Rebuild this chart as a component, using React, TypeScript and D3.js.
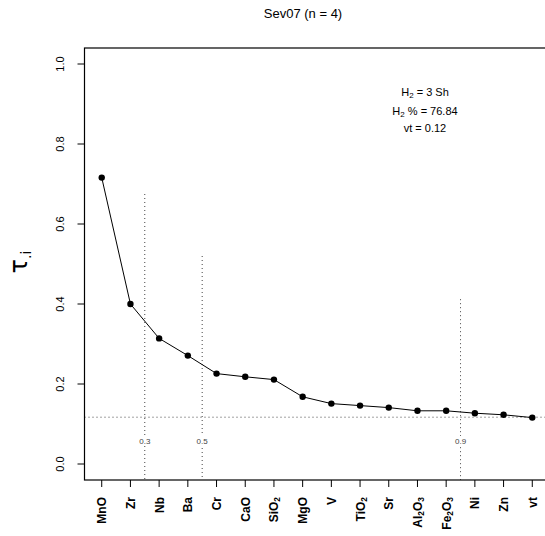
import React from "react";
import * as d3 from "d3";

const categories = ["MnO", "Zr", "Nb", "Ba", "Cr", "CaO", "SiO2", "MgO", "V", "TiO2", "Sr", "Al2O3", "Fe2O3", "Ni", "Zn", "vt"];
const tauValues = [0.716, 0.400, 0.314, 0.271, 0.226, 0.218, 0.211, 0.168, 0.151, 0.146, 0.141, 0.133, 0.133, 0.127, 0.123, 0.116];
const yTicks = [0, 0.2, 0.4, 0.6, 0.8, 1.0];
const cutPositions = [2.5, 4.5, 13.5];
const cutTops = [0.675, 0.52, 0.412];
const cutLabels = ["0.3", "0.5", "0.9"];
const vtLevel = 0.117;
const annotations = ["H2 = 3 Sh", "H2 % = 76.84", "vt = 0.12"];

const W = 545, H = 536;
const left = 84.5, right = 549.5, top = 48, bottom = 480;

function Chem({ name }: { name: string }) {
  const parts = name.split(/(\d)/).filter((p) => p !== "");
  return (
    <>
      {parts.map((p, i) =>
        /\d/.test(p) ? (
          <tspan key={i} fontSize="0.7em" baselineShift="-25%">{p}</tspan>
        ) : (
          <tspan key={i}>{p}</tspan>
        )
      )}
    </>
  );
}

export default function App() {
  const x = d3.scaleLinear().domain([0.4, 16.6]).range([left, right]);
  const y = d3.scaleLinear().domain([-0.04, 1.04]).range([bottom, top]);
  const idx = categories.map((_, i) => i + 1);
  const line = d3.line<number>().x((_, i) => x(idx[i])).y((d) => y(d));
  const font = "Liberation Sans, Arial, Helvetica, sans-serif";

  return (
    <svg width={W} height={H} style={{ position: "absolute", left: 0, top: 0 }} fontFamily={font}>
      <rect x={0} y={0} width={W} height={H} fill="#fff" />
      <text x={303} y={18} textAnchor="middle" fontSize={13}>Sev07 (n = 4)</text>

      {/* reference lines */}
      <line x1={left} x2={right} y1={y(vtLevel)} y2={y(vtLevel)} stroke="#444" strokeWidth={1} strokeDasharray="1,3" />
      {cutPositions.map((p, i) => (
        <g key={i}>
          <line x1={x(p)} x2={x(p)} y1={y(cutTops[i])} y2={bottom} stroke="#444" strokeWidth={1} strokeDasharray="1,3" />
          <rect x={x(p) - 7} y={436} width={14} height={10} fill="#fff" />
          <text x={x(p)} y={444} textAnchor="middle" fontSize={8} fill="#444">{cutLabels[i]}</text>
        </g>
      ))}

      {/* data */}
      <path d={line(tauValues) || ""} fill="none" stroke="#000" strokeWidth={1} />
      {tauValues.map((v, i) => (
        <circle key={i} cx={x(idx[i])} cy={y(v)} r={3.2} fill="#000" />
      ))}

      {/* box */}
      <rect x={left} y={top} width={right - left} height={bottom - top} fill="none" stroke="#000" strokeWidth={1.2} />

      {/* y axis */}
      {yTicks.map((t) => (
        <g key={t}>
          <line x1={left - 7} x2={left} y1={y(t)} y2={y(t)} stroke="#000" />
          <text transform={`translate(${63.5},${y(t)}) rotate(-90)`} textAnchor="middle" fontSize={11}>{t.toFixed(1)}</text>
        </g>
      ))}
      <text transform={`translate(${27},${262}) rotate(-90)`} textAnchor="middle" fontSize={24} fontFamily="DejaVu Sans, sans-serif" fontWeight="normal">
        τ<tspan fontSize={14} dy={4}>.i</tspan>
      </text>

      {/* x axis */}
      {categories.map((c, i) => (
        <g key={c}>
          <line x1={x(idx[i])} x2={x(idx[i])} y1={bottom} y2={bottom + 7} stroke="#000" />
          <text transform={`translate(${x(idx[i]) + 4.5},${497}) rotate(-90)`} textAnchor="end" fontSize={12} fontWeight="bold">
            <Chem name={c} />
          </text>
        </g>
      ))}

      {/* annotations */}
      {annotations.map((a, i) => {
        const yy = [96, 115, 132][i];
        if (a.startsWith("H2")) {
          return (
            <text key={i} x={425} y={yy} textAnchor="middle" fontSize={11}>
              H<tspan fontSize={8} dy={2}>2</tspan><tspan dy={-2}>{a.slice(2)}</tspan>
            </text>
          );
        }
        return <text key={i} x={425} y={yy} textAnchor="middle" fontSize={11}>{a}</text>;
      })}
    </svg>
  );
}
